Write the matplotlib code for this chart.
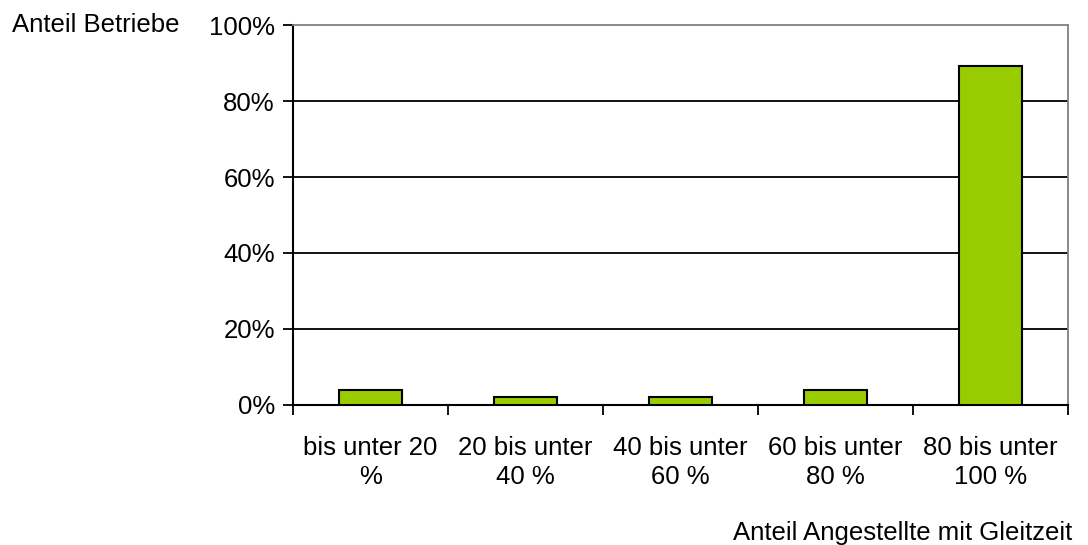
import matplotlib.pyplot as plt
import numpy as np

plt.rcParams['font.family'] = ['Liberation Sans', 'DejaVu Sans']

categories = ['bis unter 20\n%', '20 bis unter\n40 %', '40 bis unter\n60 %',
              '60 bis unter\n80 %', '80 bis unter\n100 %']
shares = [3.9, 2.0, 2.0, 3.9, 89.3]
yticks = [0, 20, 40, 60, 80, 100]

fs = 18.5

fig = plt.figure(figsize=(10.88, 5.45), dpi=100)
ax = fig.add_axes([0.2693, 0.2569, 0.9816 - 0.2693, 0.9541 - 0.2569])

x = np.arange(len(categories))
ax.bar(x, shares, width=0.41, color='#99CC00', edgecolor='black', linewidth=1.5, zorder=3)

ax.set_xlim(-0.5, len(categories) - 0.5)
ax.set_ylim(0, 100)
ax.set_yticks(yticks)
ax.set_yticklabels([f'{v}%' for v in yticks], fontsize=fs)
for v in yticks[1:-1]:
    ax.axhline(v, color='black', linewidth=1.3, zorder=1)

ax.set_xticks(x)
ax.set_xticklabels(categories, fontsize=fs, linespacing=1.3)
ax.set_xticks(np.arange(-0.5, len(categories)), minor=True)
ax.tick_params(axis='x', which='major', length=0, pad=22)
ax.tick_params(axis='x', which='minor', length=7, width=1.3, direction='out')
ax.tick_params(axis='y', length=7, width=1.3, direction='out', pad=6)

for side in ['top', 'right']:
    ax.spines[side].set_color('#808080')
    ax.spines[side].set_linewidth(1.3)
for side in ['left', 'bottom']:
    ax.spines[side].set_color('black')
    ax.spines[side].set_linewidth(1.5)

fig.text(12 / 1088, 1 - 25 / 545, 'Anteil Betriebe', fontsize=fs, ha='left', va='center')
fig.text(1072 / 1088, 1 - 533 / 545, 'Anteil Angestellte mit Gleitzeit', fontsize=fs,
         ha='right', va='center')

fig.savefig('out.png', dpi=100)
